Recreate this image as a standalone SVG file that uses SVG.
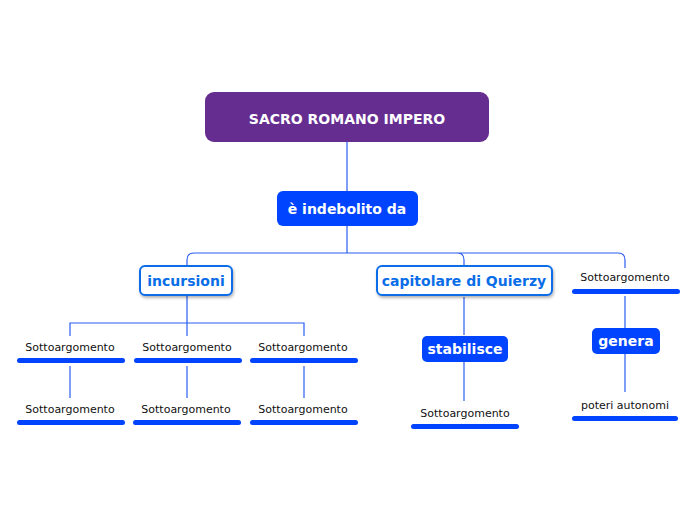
<svg xmlns="http://www.w3.org/2000/svg" width="696" height="520" viewBox="0 0 696 520">
<style>
.ln{fill:none;stroke:#2b5ef0;stroke-width:1.2}
.bar{fill:#0044ff}
.st{font-family:"DejaVu Sans",Verdana,sans-serif;font-size:11px;fill:#111;text-anchor:middle}
.bt{font-family:"DejaVu Sans",Verdana,sans-serif;font-weight:bold;font-size:14px;text-anchor:middle}
</style>
<defs><filter id="sh" x="-10%" y="-20%" width="130%" height="160%"><feDropShadow dx="1" dy="2" stdDeviation="1.5" flood-color="#000" flood-opacity="0.3"/></filter></defs>
<rect width="696" height="520" fill="#fff"/>
<g id="connectors">
<path class="ln" d="M347 142V191M347 226V253M187 265V260Q187 253 194 253H457Q464 253 464 260V265M347 253H618Q625 253 625 260V268"/>
<path class="ln" d="M187 296V323M70 336V323H304V336M187 323V336"/>
<path class="ln" d="M70 366V398M187 366V398M304 366V398"/>
<path class="ln" d="M464 297V335M464 362V401M625 296V328M625 354V392"/>
</g>
<g id="root"><rect x="205" y="92" width="284" height="50" rx="9" fill="#662d91"/><text class="bt" x="347" y="124" fill="#fff" font-size="16">SACRO ROMANO IMPERO</text></g>
<g id="indebolito"><rect x="277" y="191" width="141" height="35" rx="6" fill="#0044ff"/><text class="bt" x="347" y="214" fill="#fff">è indebolito da</text></g>
<g id="incursioni"><rect x="140" y="266" width="92" height="29" rx="5" fill="#fff" stroke="#0a6de8" stroke-width="2" filter="url(#sh)"/><text class="bt" x="186" y="286" fill="#0a6de8">incursioni</text></g>
<g id="capitolare"><rect x="377" y="266" width="175" height="29" rx="5" fill="#fff" stroke="#0a6de8" stroke-width="2" filter="url(#sh)"/><text class="bt" x="464" y="286" fill="#0a6de8">capitolare di Quierzy</text></g>
<g id="s_top"><text class="st" x="625" y="281">Sottoargomento</text><rect class="bar" x="572" y="289" width="108" height="5" rx="2.5"/></g>
<g id="stabilisce"><rect x="422" y="336" width="86" height="26" rx="5" fill="#0044ff"/><text class="bt" x="465" y="354" fill="#fff">stabilisce</text></g>
<g id="genera"><rect x="592" y="328" width="68" height="26" rx="5" fill="#0044ff"/><text class="bt" x="626" y="346" fill="#fff">genera</text></g>
<g id="s1"><text class="st" x="70" y="351">Sottoargomento</text><rect class="bar" x="17" y="358" width="108" height="5" rx="2.5"/></g>
<g id="s2"><text class="st" x="187" y="351">Sottoargomento</text><rect class="bar" x="134" y="358" width="108" height="5" rx="2.5"/></g>
<g id="s3"><text class="st" x="303" y="351">Sottoargomento</text><rect class="bar" x="250" y="358" width="108" height="5" rx="2.5"/></g>
<g id="s4"><text class="st" x="70" y="413">Sottoargomento</text><rect class="bar" x="17" y="420" width="108" height="5" rx="2.5"/></g>
<g id="s5"><text class="st" x="186" y="413">Sottoargomento</text><rect class="bar" x="133" y="420" width="108" height="5" rx="2.5"/></g>
<g id="s6"><text class="st" x="303" y="413">Sottoargomento</text><rect class="bar" x="250" y="420" width="108" height="5" rx="2.5"/></g>
<g id="s7"><text class="st" x="465" y="417">Sottoargomento</text><rect class="bar" x="411" y="424" width="108" height="5" rx="2.5"/></g>
<g id="poteri"><text class="st" x="625" y="409">poteri autonomi</text><rect class="bar" x="572" y="416" width="106" height="5" rx="2.5"/></g>
</svg>
